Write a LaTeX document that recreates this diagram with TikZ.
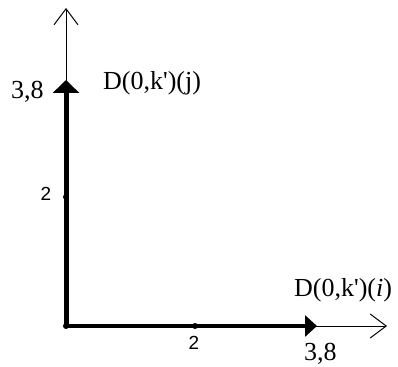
\documentclass[tikz,border=0pt]{standalone}
\usepackage{fontspec}
\setmainfont{Liberation Serif}
\newfontfamily\lsans{Liberation Sans}
\usetikzlibrary{arrows.meta}
\newcommand{\kq}{k\textquotesingle}
\begin{document}
\begin{tikzpicture}[x=1pt,y=-1pt,
  thinax/.style={line width=1pt,-{Straight Barb[length=16pt,width=24pt,line width=1pt]}},
  thickax/.style={line width=5pt,-{Triangle[length=13pt,width=26pt]}},
  thickaxh/.style={line width=4pt,-{Triangle[length=12pt,width=21pt]}},
  dotp/.style={circle,fill=black,inner sep=0pt,minimum size=6pt},
  lab/.style={font=\fontsize{26}{30}\selectfont,inner sep=0pt,anchor=base west},
  slab/.style={font=\lsans\fontsize{19}{21}\selectfont,inner sep=0pt}]
\useasboundingbox (0,0) rectangle (398,366);
\coordinate (O) at (66,326);
\coordinate (Ytop) at (66,8);
\coordinate (Xend) at (387,326);
\coordinate (Yk) at (66,80);
\coordinate (Xk) at (317,326);
\draw[thinax] (O) -- (Ytop);
\draw[thinax] (O) -- (Xend);
\draw[thickax] (O) -- (Yk);
\draw[thickaxh] (O) -- (Xk);
\node[dotp] (o) at (O) {};
\node[dotp] (y2) at (66,197) {};
\node[dotp] (x2) at (195,326) {};
\node[slab] (ly2) at (46,193.5) {2};
\node[slab] (lx2) at (194,342.5) {2};
\node[lab] (ly38) at (11,99) {3,8};
\node[lab] (lx38) at (304,360) {3,8};
\node[lab] (ldj) at (103,90) {D(0,\kq)(j)};
\node[lab] (ldi) at (294,296) {D(0,\kq)(\textit{i})};
\end{tikzpicture}
\end{document}
